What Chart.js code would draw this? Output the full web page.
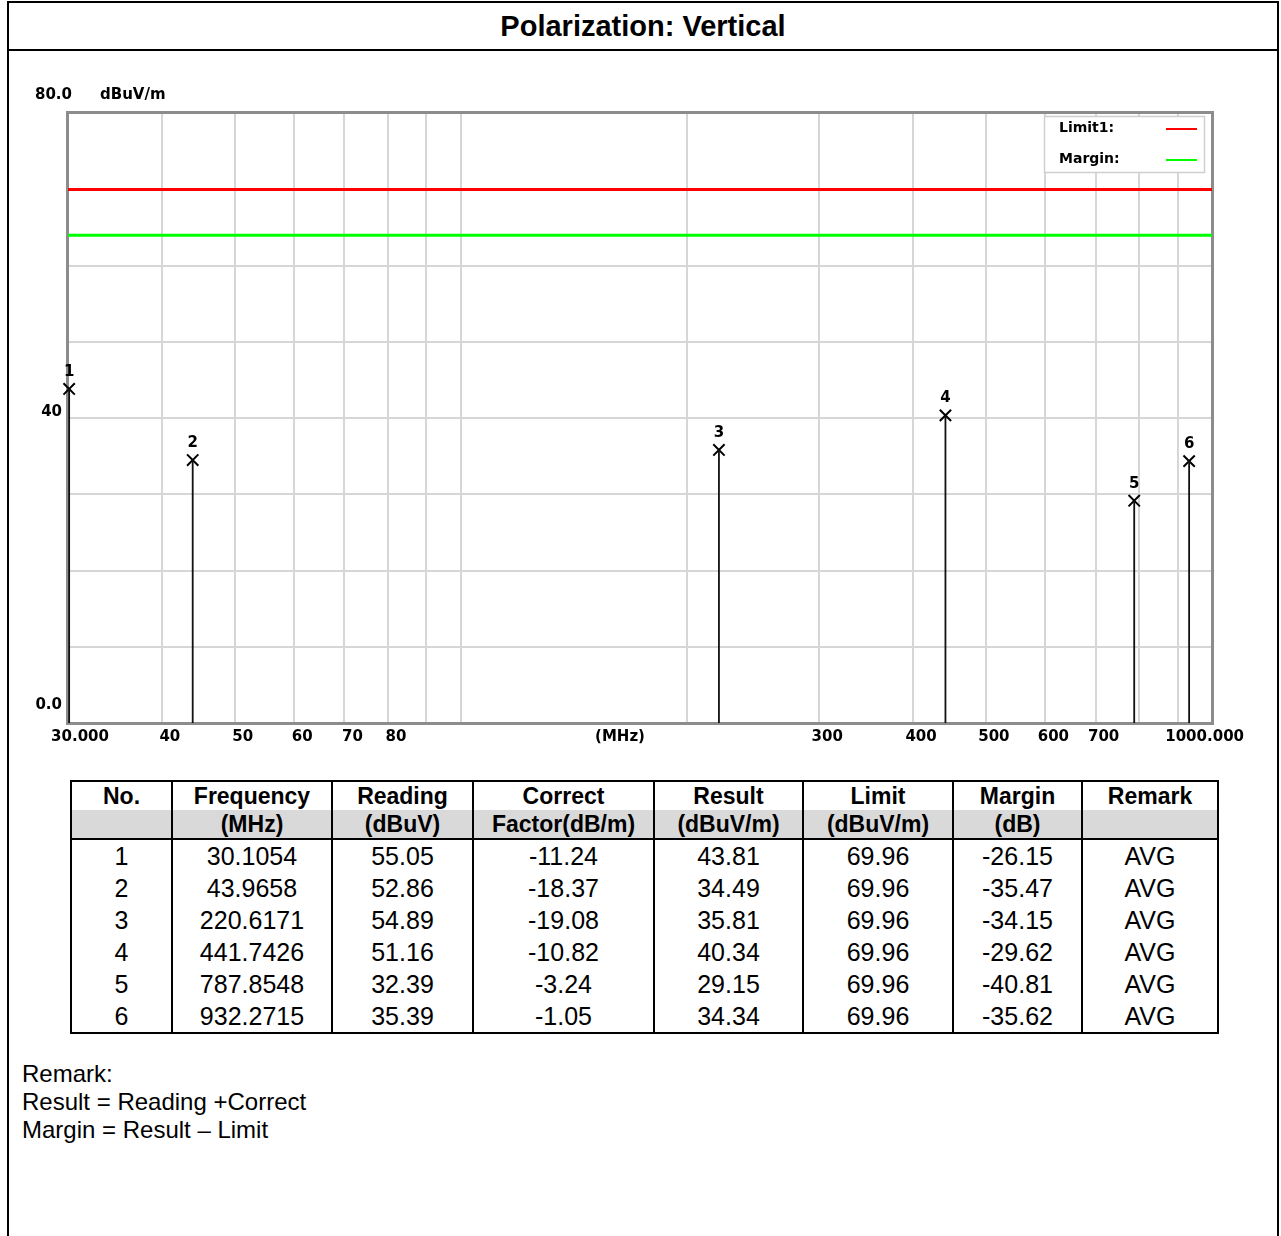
<!DOCTYPE html>
<html>
<head>
<meta charset="utf-8">
<title>Polarization: Vertical</title>
<script src="https://cdn.jsdelivr.net/npm/chart.js@4.4.1/dist/chart.umd.min.js"></script>
<style>
  html, body { margin: 0; padding: 0; background: #fff; }
  body { width: 1281px; height: 1236px; position: relative; overflow: hidden;
         font-family: "Liberation Sans", Arial, sans-serif; color: #000; }
  .frame { position: absolute; left: 7px; top: 1px; width: 1268px; height: 1300px;
           border: 2px solid #000; border-bottom: none; }
  .title { position: absolute; left: 9px; top: 3px; width: 1268px; height: 46px; line-height: 46px;
           text-align: center; font-weight: bold; font-size: 29px; }
  .sep { position: absolute; left: 7px; top: 49px; width: 1272px; height: 2px; background: #000; }
  .plot { position: absolute; left: 10px; top: 60px; width: 1266px; height: 700px; }
  table { position: absolute; left: 70px; top: 780px; border-collapse: collapse; table-layout: fixed;
          width: 1147px; border: 2px solid #000; }
  td, th { border-left: 2px solid #000; border-right: 2px solid #000; padding: 0; text-align: center;
           white-space: nowrap; overflow: hidden; }
  th { font-size: 23px; font-weight: bold; height: 28px; line-height: 28px; }
  tr.h2 th { background: #d9d9d9; border-bottom: 2px solid #000; }
  td { font-size: 25px; height: 32px; line-height: 32px; }
  .remark { position: absolute; left: 22px; top: 1060px; font-size: 24px; line-height: 28px; }
</style>
</head>
<body>
<div class="frame"></div>
<div class="title">Polarization: Vertical</div>
<div class="sep"></div>
<div class="plot"><canvas id="chart" width="1266" height="700"></canvas></div>
<table id="tbl">
  <colgroup>
    <col style="width:101px"><col style="width:160px"><col style="width:141px"><col style="width:181px">
    <col style="width:149px"><col style="width:150px"><col style="width:129px"><col style="width:136px">
  </colgroup>
  <thead>
    <tr class="h1"><th>No.</th><th>Frequency</th><th>Reading</th><th>Correct</th><th>Result</th><th>Limit</th><th>Margin</th><th>Remark</th></tr>
    <tr class="h2"><th></th><th>(MHz)</th><th>(dBuV)</th><th>Factor(dB/m)</th><th>(dBuV/m)</th><th>(dBuV/m)</th><th>(dB)</th><th></th></tr>
  </thead>
  <tbody id="rows"></tbody>
</table>
<div class="remark">Remark:<br>Result = Reading +Correct<br>Margin = Result – Limit</div>

<script>
// Datos de los picos medidos
const peakNo   = [1, 2, 3, 4, 5, 6];
const freqs    = [30.1054, 43.9658, 220.6171, 441.7426, 787.8548, 932.2715];
const readings = [55.05, 52.86, 54.89, 51.16, 32.39, 35.39];
const corrects = [-11.24, -18.37, -19.08, -10.82, -3.24, -1.05];
const results  = [43.81, 34.49, 35.81, 40.34, 29.15, 34.34];
const limits   = [69.96, 69.96, 69.96, 69.96, 69.96, 69.96];
const margins  = [-26.15, -35.47, -34.15, -29.62, -40.81, -35.62];
const remarks  = ["AVG", "AVG", "AVG", "AVG", "AVG", "AVG"];

// Lineas de limite
const limitLevel  = 69.96;
const marginLevel = 63.96;
const xRange = [30, 1000];
const yRange = [0, 80];

// Ejes
const xGrid   = [30, 40, 50, 60, 70, 80, 90, 100, 200, 300, 400, 500, 600, 700, 800, 900, 1000];
const xLabels = ["30.000", "40", "50", "60", "70", "80", "", "", "", "300", "400", "500", "600", "700", "", "", "1000.000"];
const yLabelVals = [0, 40, 80];
const yLabels    = ["0.0", "40", "80.0"];
const yUnit = "dBuV/m";
const xUnit = "(MHz)";

// Tabla
const tbody = document.getElementById("rows");
peakNo.forEach((n, i) => {
  const tr = document.createElement("tr");
  [n, freqs[i].toFixed(4), readings[i].toFixed(2), corrects[i].toFixed(2), results[i].toFixed(2),
   limits[i].toFixed(2), margins[i].toFixed(2), remarks[i]].forEach(v => {
    const td = document.createElement("td");
    td.textContent = v;
    tr.appendChild(td);
  });
  tbody.appendChild(tr);
});

// Datos para el grafico
const stemData = [];
freqs.forEach((f, i) => {
  stemData.push({ x: f, y: 0 }, { x: f, y: results[i] }, { x: f, y: null });
});
const peakData = freqs.map((f, i) => ({ x: f, y: results[i] }));

const axisFont = 'bold 15px "DejaVu Sans", sans-serif';

const decoPlugin = {
  id: "deco",
  beforeDatasetsDraw(chart) {
    const { ctx, chartArea: a } = chart;
    ctx.save();
    ctx.strokeStyle = "#8c8c8c";
    ctx.lineWidth = 3;
    ctx.strokeRect(a.left - 0.5, a.top - 0.5, a.right - a.left + 1, a.bottom - a.top + 1);
    ctx.restore();
  },
  afterDatasetsDraw(chart) {
    const { ctx, chartArea: a, scales } = chart;
    const xs = scales.x, ys = scales.y;
    ctx.save();
    ctx.fillStyle = "#000";
    ctx.font = axisFont;
    ctx.textBaseline = "middle";

    // etiquetas eje x
    xGrid.forEach((v, i) => {
      const txt = xLabels[i];
      if (!txt) return;
      const px = xs.getPixelForValue(v);
      if (i === xGrid.length - 1) {
        ctx.textAlign = "right";
        ctx.fillText(txt, px + 32, a.bottom + 14);
      } else {
        ctx.textAlign = "center";
        ctx.fillText(txt, px + (i === 0 ? 12 : 8), a.bottom + 14);
      }
    });
    ctx.textAlign = "center";
    ctx.fillText(xUnit, (a.left + a.right) / 2 - 20, a.bottom + 14);

    // etiquetas eje y
    yLabelVals.forEach((v, i) => {
      const py = ys.getPixelForValue(v);
      if (v === yRange[1]) {
        ctx.textAlign = "left";
        ctx.fillText(yLabels[i], a.left - 33, py - 18);
        ctx.fillText(yUnit, a.left + 32, py - 18);
      } else if (v === yRange[0]) {
        ctx.textAlign = "right";
        ctx.fillText(yLabels[i], a.left - 6, py - 18);
      } else {
        ctx.textAlign = "right";
        ctx.fillText(yLabels[i], a.left - 6, py - 6);
      }
    });

    // numeros de los picos
    ctx.textAlign = "center";
    peakData.forEach((p, i) => {
      ctx.fillText(String(peakNo[i]), xs.getPixelForValue(p.x), ys.getPixelForValue(p.y) - 17);
    });

    // leyenda
    const bx = a.right - 168, by = a.top + 3, bw = 160, bh = 56;
    ctx.fillStyle = "#fff";
    ctx.fillRect(bx, by, bw, bh);
    ctx.strokeStyle = "#cfcfcf";
    ctx.lineWidth = 1.5;
    ctx.strokeRect(bx + 0.5, by + 0.5, bw, bh);
    ctx.font = 'bold 14px "DejaVu Sans", sans-serif';
    ctx.textAlign = "left";
    [0, 1].forEach(k => {
      const ds = chart.data.datasets[k];
      const ly = by + 12 + k * 31;
      ctx.fillStyle = "#000";
      ctx.fillText(ds.label, bx + 15, ly);
      ctx.strokeStyle = ds.borderColor;
      ctx.lineWidth = 2;
      ctx.beginPath();
      ctx.moveTo(bx + 122, ly + 1);
      ctx.lineTo(bx + 153, ly + 1);
      ctx.stroke();
    });
    ctx.restore();
  }
};

new Chart(document.getElementById("chart"), {
  type: "line",
  data: {
    datasets: [
      { label: "Limit1:", data: xRange.map(x => ({ x, y: limitLevel })), borderColor: "#ff0000",
        borderWidth: 3, pointRadius: 0 },
      { label: "Margin:", data: xRange.map(x => ({ x, y: marginLevel })), borderColor: "#00ff00",
        borderWidth: 3, pointRadius: 0 },
      { label: "stems", data: stemData, borderColor: "#111", borderWidth: 1.8, pointRadius: 0,
        spanGaps: false, clip: false },
      { label: "peaks", type: "scatter", data: peakData, pointStyle: "crossRot", pointRadius: 8,
        borderColor: "#000", borderWidth: 2, showLine: false, clip: false }
    ]
  },
  options: {
    responsive: false,
    animation: false,
    events: [],
    layout: { padding: { left: 58, top: 53, right: 64, bottom: 37 } },
    plugins: { legend: { display: false }, tooltip: { enabled: false }, title: { display: false } },
    scales: {
      x: {
        type: "logarithmic", min: xRange[0], max: xRange[1],
        afterBuildTicks: s => { s.ticks = xGrid.map(v => ({ value: v })); },
        afterFit: s => { s.height = 0; },
        ticks: { display: false },
        grid: { color: "#d6d6d6", lineWidth: 2, drawTicks: false },
        border: { display: false }
      },
      y: {
        min: yRange[0], max: yRange[1],
        ticks: { display: false, stepSize: 10 },
        afterFit: s => { s.width = 0; },
        grid: { color: "#d6d6d6", lineWidth: 2, drawTicks: false },
        border: { display: false }
      }
    }
  },
  plugins: [decoPlugin]
});
</script>
</body>
</html>
